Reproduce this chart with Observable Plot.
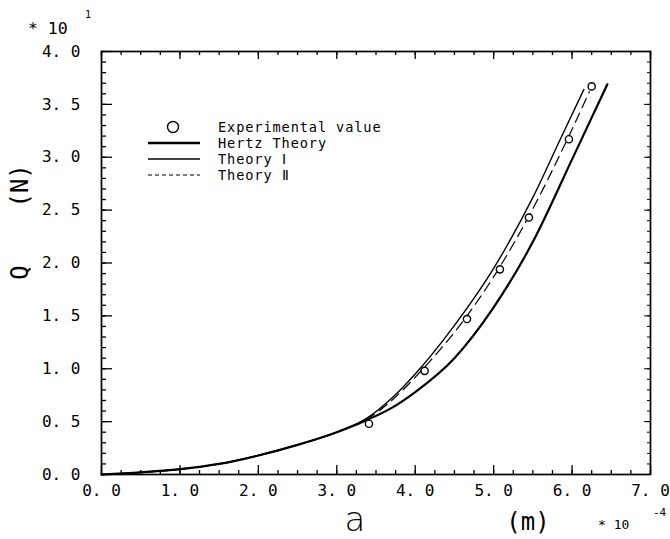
<!DOCTYPE html>
<html>
<head>
<meta charset="utf-8">
<script src="https://cdn.jsdelivr.net/npm/d3@7"></script>
<script src="https://cdn.jsdelivr.net/npm/@observablehq/plot@0.6"></script>
<style>
  html, body { margin: 0; padding: 0; background: #fff; }
  #chart svg { display: block; }
</style>
</head>
<body>
<div id="chart"></div>
<script>
// ---- data (a in 1e-4 m, Q in 1e1 N) ----
const hertzA   = [0, 0.5, 1.0, 1.5, 2.0, 2.5, 3.0, 3.4, 3.7, 4.0, 4.5, 5.0, 5.5, 6.0, 6.45];
const hertzQ   = [0, 0.02, 0.05, 0.10, 0.18, 0.28, 0.40, 0.52, 0.63, 0.78, 1.10, 1.58, 2.20, 2.98, 3.69];
const theory1A = [0, 0.5, 1.0, 1.5, 2.0, 2.5, 3.0, 3.4, 3.7, 4.0, 4.5, 5.0, 5.5, 5.85, 6.15];
const theory1Q = [0, 0.02, 0.05, 0.10, 0.18, 0.28, 0.40, 0.54, 0.72, 0.95, 1.41, 1.95, 2.62, 3.17, 3.64];
const theory2A = [0, 0.5, 1.0, 1.5, 2.0, 2.5, 3.0, 3.4, 3.7, 4.1, 4.63, 5.06, 5.44, 5.94, 6.22];
const theory2Q = [0, 0.02, 0.05, 0.10, 0.18, 0.28, 0.40, 0.53, 0.70, 1.00, 1.47, 1.94, 2.43, 3.17, 3.62];
const expA     = [3.41, 4.12, 4.66, 5.08, 5.45, 5.96, 6.25];
const expQ     = [0.48, 0.98, 1.47, 1.94, 2.43, 3.17, 3.67];

const xMajor = [0, 1, 2, 3, 4, 5, 6, 7];
const xMinor = d3.range(0, 7.001, 0.25);
const yMajor = [0, 0.5, 1.0, 1.5, 2.0, 2.5, 3.0, 3.5, 4.0];
const yMinor = d3.range(0, 4.001, 0.1);

const legendLabels = ["Experimental value", "Hertz Theory", "Theory \u2160", "Theory \u2161"];

const toRows = (A, Q) => A.map((a, i) => ({a, q: Q[i]}));
const hertz = toRows(hertzA, hertzQ);
const theory1 = toRows(theory1A, theory1Q);
const theory2 = toRows(theory2A, theory2Q);
const exper = toRows(expA, expQ);

// ---- layout ----
const W = 670, H = 539;
const mL = 101, mR = 20, mT = 51, mB = 65;
const innerW = W - mL - mR, innerH = H - mT - mB;
const fmt = d => d.toFixed(1).replace(".", ". ");
const mono = "'DejaVu Sans Mono', 'Liberation Mono', monospace";

const chart = Plot.plot({
  width: W, height: H,
  marginLeft: mL, marginRight: mR, marginTop: mT, marginBottom: mB,
  style: {fontFamily: mono, fontSize: "16px", background: "white", color: "black"},
  x: {domain: [0, 7]},
  y: {domain: [0, 4]},
  marks: [
    Plot.axisX(xMajor, {tickSize: 0, tickPadding: 10, tickFormat: fmt, label: null, fontSize: 16}),
    Plot.axisY(yMajor, {tickSize: 0, tickPadding: 21, tickFormat: fmt, label: null, fontSize: 16}),
    // inward ticks, bottom & top
    Plot.tickX(xMinor, {x: d => d, insetTop: innerH - 4, strokeWidth: 1.3}),
    Plot.tickX(xMajor, {x: d => d, insetTop: innerH - 9, strokeWidth: 1.3}),
    Plot.tickX(xMinor, {x: d => d, insetBottom: innerH - 4, strokeWidth: 1.3}),
    Plot.tickX(xMajor, {x: d => d, insetBottom: innerH - 8, strokeWidth: 1.3}),
    // inward ticks, left & right
    Plot.tickY(yMinor, {y: d => d, insetRight: innerW - 5, strokeWidth: 1.3}),
    Plot.tickY(yMajor, {y: d => d, insetRight: innerW - 11, strokeWidth: 1.3}),
    Plot.tickY(yMinor, {y: d => d, insetLeft: innerW - 3, strokeWidth: 1}),
    Plot.tickY(yMajor, {y: d => d, insetLeft: innerW - 6, strokeWidth: 1}),
    Plot.frame({stroke: "black", strokeWidth: 1.7}),
    Plot.line(hertz, {x: "a", y: "q", curve: "monotone-x", stroke: "black", strokeWidth: 2.2}),
    Plot.line(theory1, {x: "a", y: "q", curve: "monotone-x", stroke: "black", strokeWidth: 1.4}),
    Plot.line(theory2, {x: "a", y: "q", curve: "monotone-x", stroke: "black", strokeWidth: 1.2, strokeDasharray: "10,6"}),
    Plot.dot(exper, {x: "a", y: "q", r: 3.6, stroke: "black", fill: "white", strokeWidth: 1.4})
  ]
});

document.getElementById("chart").appendChild(chart);

// ---- titles, multipliers and legend ----
const svg = d3.select(chart);
const g = svg.append("g").attr("fill", "black").attr("text-anchor", "start").style("font-family", mono);

// y multiplier
g.append("text").attr("x", 28).attr("y", 34).attr("font-size", 16.5)
  .attr("xml:space", "preserve").style("white-space", "pre").text("* 10");
g.append("text").attr("x", 85).attr("y", 18).attr("font-size", 10).text("1");

// y title
g.append("text")
  .attr("transform", "translate(28,222) rotate(-90)")
  .attr("text-anchor", "middle")
  .attr("font-size", 24)
  .attr("xml:space", "preserve")
  .style("white-space", "pre")
  .text("Q    (N)");

// x title
g.append("text").attr("x", 355).attr("y", 531).attr("text-anchor", "middle")
  .attr("font-size", 34).style("font-family", "'DejaVu Sans', sans-serif").style("font-weight", 300).text("a");
g.append("text").attr("x", 528).attr("y", 530).attr("text-anchor", "middle")
  .attr("font-size", 24).text("(m)");
g.append("text").attr("x", 598).attr("y", 529).attr("font-size", 13)
  .attr("xml:space", "preserve").style("white-space", "pre").text("* 10");
g.append("text").attr("x", 653).attr("y", 516).attr("font-size", 11).text("-4");

// legend
const lg = g.append("g");
const rowsY = [127, 143, 159, 175];
lg.append("circle").attr("cx", 173).attr("cy", rowsY[0]).attr("r", 5.5)
  .attr("fill", "none").attr("stroke", "black").attr("stroke-width", 1.4);
const styles = [null, {w: 2.4, dash: null}, {w: 1.4, dash: null}, {w: 1.2, dash: "4,3"}];
styles.forEach((s, i) => {
  if (!s) return;
  lg.append("line").attr("x1", 148).attr("x2", 200).attr("y1", rowsY[i]).attr("y2", rowsY[i])
    .attr("stroke", "black").attr("stroke-width", s.w).attr("stroke-dasharray", s.dash);
});
legendLabels.forEach((t, i) => {
  lg.append("text").attr("x", 218).attr("y", rowsY[i]).attr("dy", "0.35em")
    .attr("font-size", 13.6).attr("letter-spacing", 0.9).text(t);
});
</script>
</body>
</html>
